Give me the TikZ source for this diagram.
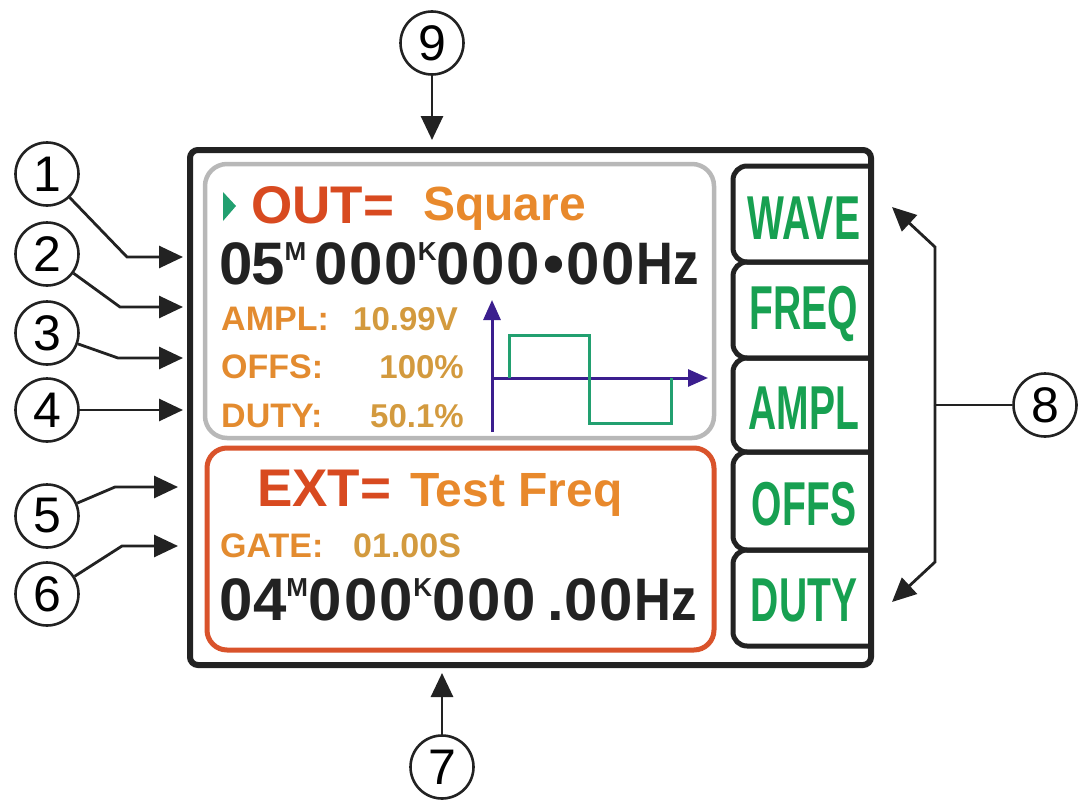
\documentclass[tikz,border=0pt]{standalone}
\usepackage{fontspec}
\usepackage{graphicx}
\setmainfont{Liberation Sans}
\newfontfamily\keyfont[FakeStretch=0.63]{Liberation Sans}
\usetikzlibrary{arrows.meta}

\definecolor{scrred}{HTML}{D84A20}
\definecolor{scrorange}{HTML}{E8892C}
\definecolor{lblorange}{HTML}{E38B2F}
\definecolor{valtan}{HTML}{D39A3E}
\definecolor{keygreen}{HTML}{17A051}
\definecolor{wavegreen}{HTML}{22A070}
\definecolor{axisblue}{HTML}{3B1E8E}
\definecolor{panelgray}{HTML}{B8B8B8}
\definecolor{panelred}{HTML}{D9532B}
\definecolor{ink}{HTML}{222222}

\newcommand{\unitsup}[1]{\raisebox{24pt}{\fontsize{26}{26}\selectfont #1}}
\newcommand{\dgap}{\kern1.6pt}
\newcommand{\hzunit}{\scalebox{0.85}[1]{Hz}}

\tikzset{
  callout/.style={circle, draw=ink, line width=2.6pt, minimum size=63pt, inner sep=0pt,
    font=\fontsize{50}{50}\selectfont},
  pointer/.style={draw=ink, line width=2.8pt, -{Triangle[length=24pt,width=22pt]}},
  keyline/.style={draw=ink, line width=5pt, rounded corners=14pt},
  keytext/.style={text=keygreen, inner sep=0pt, font=\keyfont\bfseries\fontsize{62}{62}\selectfont},
  freqtext/.style={text=ink, inner sep=0pt, anchor=base west, font=\bfseries\fontsize{60}{60}\selectfont},
  headtext/.style={inner sep=0pt, anchor=base west, font=\bfseries\fontsize{53}{53}\selectfont},
  lbltext/.style={text=lblorange, inner sep=0pt, anchor=base west, font=\bfseries\fontsize{34}{34}\selectfont},
  valtext/.style={text=valtan, inner sep=0pt, anchor=base east, font=\bfseries\fontsize{33}{33}\selectfont},
}

\begin{document}
\begin{tikzpicture}[x=1pt,y=-1pt]
  \useasboundingbox (0,0) rectangle (1078,808);

  % Frame and panels
  \draw[draw=ink, line width=6pt, rounded corners=8pt] (190,150) rectangle (871,665);
  \draw[draw=panelgray, line width=4.5pt, rounded corners=22pt] (205,164) rectangle (714,438);
  \draw[draw=panelred, line width=5pt, rounded corners=20pt] (207,448) rectangle (714,650);

  % Keys
  \draw[keyline] (871,166) -- (733,166) -- (733,262) -- (871,262);
  \draw[keyline] (871,262) -- (733,262) -- (733,358) -- (871,358);
  \draw[keyline] (871,358) -- (733,358) -- (733,452) -- (871,452);
  \draw[keyline] (871,452) -- (733,452) -- (733,550) -- (871,550);
  \draw[keyline] (871,550) -- (733,550) -- (733,646) -- (871,646);
  \node[keytext] (wave) at (804,218) {WAVE};
  \node[keytext] (freq) at (804,314) {FREQ};
  \node[keytext] (ampl) at (804,408) {AMPL};
  \node[keytext] (offs) at (804,504) {OFFS};
  \node[keytext] (duty) at (804,600) {DUTY};

  % Output panel
  \fill[wavegreen] (223,192) -- (236,206) -- (223,221) -- cycle;
  \node[headtext, text=scrred] (outlbl) at (251,223) {OUT=};
  \node[headtext, text=scrorange, font=\bfseries\fontsize{48}{48}\selectfont] (outwave) at (423,220) {Square};
  \node[freqtext] (outfreq) at (219.5,284)
    {0\kern-1.8pt5\unitsup{M}\kern8.3pt0\dgap0\dgap0\unitsup{K}0\dgap0\dgap0\kern4pt•\kern2pt0\dgap0\kern1pt\hzunit};
  \node[lbltext] (ampllbl) at (221,330) {AMPL:};
  \node[valtext] (amplval) at (458,330) {10.99V};
  \node[lbltext] (offslbl) at (221,378) {OFFS:};
  \node[valtext] (offsval) at (464,378) {100\%};
  \node[lbltext] (dutylbl) at (221,427) {DUTY:};
  \node[valtext] (dutyval) at (464,427) {50.1\%};

  % Waveform
  \draw[axisblue, line width=3pt, -{Triangle[length=20pt,width=17pt]}] (492,432) -- (492,300);
  \draw[axisblue, line width=3pt, -{Triangle[length=20pt,width=17pt]}] (492,378) -- (708,378);
  \draw[wavegreen, line width=3pt] (509,378) -- (509,335) -- (589,335) -- (589,423) -- (671,423) -- (671,378);

  % External panel
  \node[headtext, text=scrred] (extlbl) at (257,506) {EXT=};
  \node[headtext, text=scrorange, font=\bfseries\fontsize{48}{48}\selectfont] (extsrc) at (410,506) {Test Freq};
  \node[lbltext] (gatelbl) at (220,557) {GATE:};
  \node[valtext, anchor=base west, font=\bfseries\fontsize{34}{34}\selectfont] (gateval) at (353,557) {01.00S};
  \node[freqtext] (extfreq) at (219.5,620)
    {04\unitsup{M}0\kern2.6pt0\kern2.6pt0\unitsup{K}0\dgap0\dgap0\kern12.5pt.0\dgap0\kern1.4pt\hzunit};

  % Callouts
  \node[callout] (c1) at (47,174) {1};
  \node[callout] (c2) at (47,254) {2};
  \node[callout] (c3) at (47,333) {3};
  \node[callout] (c4) at (47,410) {4};
  \node[callout] (c5) at (47,516) {5};
  \node[callout] (c6) at (47,594) {6};
  \node[callout] (c7) at (442,767) {7};
  \node[callout] (c8) at (1045,405) {8};
  \node[callout] (c9) at (432,43) {9};

  \coordinate (t1) at (183,257);
  \coordinate (t2) at (183,307);
  \coordinate (t3) at (183,358);
  \coordinate (t4) at (183,410);
  \coordinate (t5) at (178,487);
  \coordinate (t6) at (178,546);
  \coordinate (t7) at (442,673);
  \coordinate (t9) at (432,140);
  \coordinate (j8) at (935,405);
  \coordinate (t8a) at (892,207);
  \coordinate (t8b) at (892,602);

  % Pointers
  \draw[pointer] (c1) -- (127,257) -- (t1);
  \draw[pointer] (c2) -- (120,307) -- (t2);
  \draw[pointer] (c3) -- (118,358) -- (t3);
  \draw[pointer] (c4) -- (t4);
  \draw[pointer] (c5) -- (115,487) -- (t5);
  \draw[pointer] (c6) -- (122,546) -- (t6);
  \draw[pointer] (c7) -- (t7);
  \draw[pointer] (c9) -- (t9);
  \draw[draw=ink, line width=2.8pt] (c8) -- (j8);
  \draw[pointer] (j8) -- (935,247) -- (t8a);
  \draw[pointer] (j8) -- (935,562) -- (t8b);
\end{tikzpicture}
\end{document}
